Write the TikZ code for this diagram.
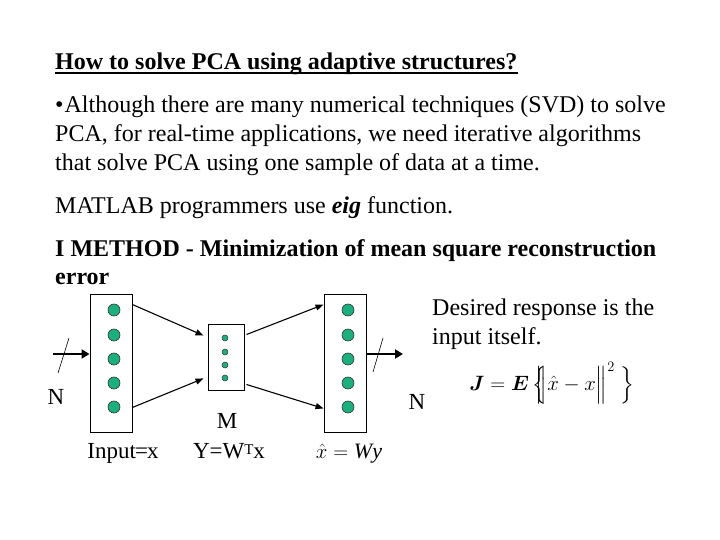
\documentclass[tikz,border=0pt]{standalone}
\usepackage{amsmath,bm}
\usepackage{fontspec}
\setmainfont{Liberation Serif}
\usetikzlibrary{arrows.meta,calc}
\definecolor{neurongreen}{RGB}{27,174,126}
\begin{document}
\begin{tikzpicture}[x=1pt,y=-1pt,
  txt/.style={anchor=base west, inner sep=0pt, font=\fontsize{24}{29}\selectfont},
  btxt/.style={anchor=base west, inner sep=0pt, font=\bfseries\fontsize{24}{29}\selectfont},
  lbl/.style={inner sep=0pt, font=\fontsize{23}{26}\selectfont},
  layerbox/.style={draw, line width=0.9pt, inner sep=0pt},
  neuron/.style={circle, draw=black!80, line width=0.6pt, fill=neurongreen, minimum size=12pt, inner sep=0pt},
  smallneuron/.style={circle, draw=black!80, line width=0.5pt, fill=neurongreen, minimum size=6pt, inner sep=0pt},
  conn/.style={line width=1.1pt, -{Triangle[length=8pt,width=6pt]}},
  bigconn/.style={line width=2.8pt, -{Triangle[length=8pt,width=9pt]}},
  slash/.style={line width=0.6pt}]
\useasboundingbox (0,0) rectangle (720,540);

\node[btxt] (title) at (55,70) {How to solve PCA using adaptive structures?};
\draw[line width=1.6pt] ($(title.base west)+(0,3)$) -- ($(title.base east)+(0,3)$);
\node[txt] (b1) at (55,113) {\textbullet\kern1pt Although there are many numerical techniques (SVD) to solve};
\node[txt] (b2) at (55,142) {PCA, for real-time applications, we need iterative algorithms};
\node[txt] (b3) at (55,171) {that solve PCA using one sample of data at a time.};
\node[txt] (mat) at (55,214) {MATLAB programmers use \textbf{\textit{eig}} function.};
\node[btxt] (m1) at (55,256) {I METHOD - Minimization of mean square reconstruction};
\node[btxt] (m2) at (55,284) {error};
\node[txt] (d1) at (432,315) {Desired response is the};
\node[txt] (d2) at (432,344) {input itself.};

% layers
\node[layerbox, minimum width=42pt, minimum height=138pt] (L) at (111,363) {};
\node[layerbox, minimum width=36pt, minimum height=66pt] (M) at (226,357) {};
\node[layerbox, minimum width=42pt, minimum height=138pt] (R) at (345,363) {};

\foreach \i/\yy in {1/310,2/335,3/359,4/383,5/407}{
  \node[neuron] (l\i) at (114,\yy) {};
  \node[neuron] (r\i) at (348,\yy) {};
}
\foreach \i/\yy in {1/338,2/352,3/365,4/378}{
  \node[smallneuron] (s\i) at (225,\yy) {};
}

% connections
\draw[conn] ($(L.north east)+(0,11)$) -- ($(M.north west)+(-4,12)$);
\draw[conn] ($(L.south east)+(0,-25)$) -- ($(M.south west)+(-4,-12)$);
\draw[conn] ($(M.north east)+(2,11)$) -- ($(R.north west)+(0,11)$);
\draw[conn] ($(M.south east)+(2,-6)$) -- ($(R.south west)+(0,-24)$);

\coordinate (in) at (53,354);
\coordinate (out) at (403,354);
\draw[bigconn] (in) -- (L.west |- in);
\draw[bigconn] (R.east |- out) -- (out);
\coordinate (sl1a) at (69,338); \coordinate (sl1b) at (58,373);
\coordinate (sl2a) at (383,338); \coordinate (sl2b) at (373,372);
\draw[slash] (sl1a) -- (sl1b);
\draw[slash] (sl2a) -- (sl2b);

\node[lbl] (nl) at (56,397) {N};
\node[lbl] (nr) at (417,402) {N};
\node[lbl] (mm) at (227,421) {M};
\node[lbl, anchor=base] (inp) at (123,458) {Input\kern-1pt=\kern-1pt x};
\node[lbl, anchor=base] (yw) at (229,458) {Y=W{\fontsize{15}{15}\selectfont\raisebox{3.5pt}{T}}x};
\node[lbl, anchor=base, font=\fontsize{22}{26}\selectfont] (xh) at (349,458) {$\hat{x}=\mathit{Wy}$};
\node[lbl, font=\fontsize{22}{26}\selectfont] (J) at (552,383) {$\bm{J}=\bm{E}\,\Big\{\!\!\!\Big\|\hat{x}-x\Big\|^{2}\;\Big\}$};
\end{tikzpicture}
\end{document}
